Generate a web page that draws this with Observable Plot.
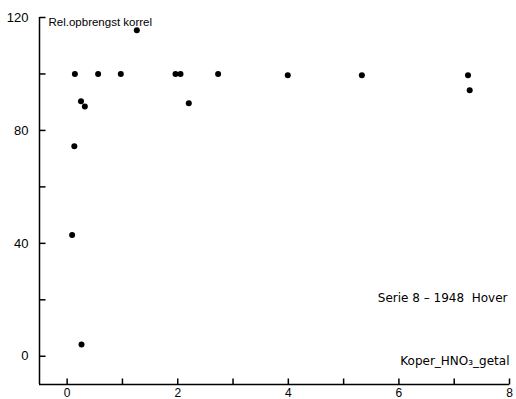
<!DOCTYPE html>
<html>
<head>
<meta charset="utf-8">
<script src="https://cdn.jsdelivr.net/npm/d3@7"></script>
<script src="https://cdn.jsdelivr.net/npm/@observablehq/plot@0.6"></script>
<style>
  html, body { margin: 0; padding: 0; background: #fff; }
  #chart svg { display: block; font-family: "Liberation Sans", Arial, sans-serif; }
</style>
</head>
<body>
<div id="chart"></div>
<script>
// Copper HNO3 number (x) vs relative grain yield (y)
const koper = [0.14, 0.25, 0.32, 0.56, 0.97, 1.26, 1.96, 2.05, 2.20, 2.73, 3.99, 5.33, 7.25, 7.28, 0.13, 0.09, 0.26];
const opbrengst = [100, 90.3, 88.5, 100, 100, 115.5, 100, 100, 89.6, 100, 99.5, 99.5, 99.5, 94.2, 74.4, 43, 4.2];

const xLabelTicks = [0, 2, 4, 6, 8];
const xMinorTicks = [1, 3, 5, 7];
const yLabelTicks = [0, 40, 80, 120];
const yMinorTicks = [20, 60, 100];

const yTitle = "Rel.opbrengst korrel";
const xTitle = "Koper_HNO₃_getal";
const note = "Serie 8 – 1948  Hover";

const points = koper.map((k, i) => ({x: k, y: opbrengst[i]}));

const tickLen = 6;
const tickUp = {draw(ctx) { ctx.moveTo(0, 0); ctx.lineTo(0, -tickLen); }};
const tickRight = {draw(ctx) { ctx.moveTo(0, 0); ctx.lineTo(tickLen, 0); }};

const chart = Plot.plot({
  width: 516,
  height: 399,
  marginLeft: 39,
  marginRight: 7,
  marginTop: 17,
  marginBottom: 15,
  style: {fontSize: "12px", color: "#000", background: "#fff"},
  x: {domain: [-0.5, 8], label: null},
  y: {domain: [-10, 120], label: null},
  marks: [
    Plot.ruleX([-0.5], {stroke: "#000", strokeWidth: 1.5}),
    Plot.ruleY([-10], {stroke: "#000", strokeWidth: 1.5}),
    Plot.dot([...xLabelTicks, ...xMinorTicks], {x: d => d, frameAnchor: "bottom", symbol: tickUp, fill: "none", stroke: "#000", strokeWidth: 1.5}),
    Plot.dot([...yLabelTicks, ...yMinorTicks], {y: d => d, frameAnchor: "left", symbol: tickRight, fill: "none", stroke: "#000", strokeWidth: 1.5}),
    Plot.axisX({ticks: xLabelTicks, tickSize: 0, tickPadding: 4, label: null, fontSize: 12}),
    Plot.axisY({ticks: yLabelTicks, tickSize: 0, tickPadding: 11, label: null, fontSize: 13}),
    Plot.text([yTitle], {frameAnchor: "top-left", dx: 9, textAnchor: "start", fontSize: 11.5}),
    Plot.text([xTitle], {frameAnchor: "bottom-right", dy: -20, textAnchor: "end", fontSize: 12, fontFamily: "DejaVu Sans"}),
    Plot.text([note], {frameAnchor: "bottom-right", dy: -83, dx: -2, textAnchor: "end", fontSize: 12, fontFamily: "DejaVu Sans"}),
    Plot.dot(points, {x: "x", y: "y", r: 3, fill: "#000", stroke: "none"})
  ]
});
document.getElementById("chart").appendChild(chart);
</script>
</body>
</html>
